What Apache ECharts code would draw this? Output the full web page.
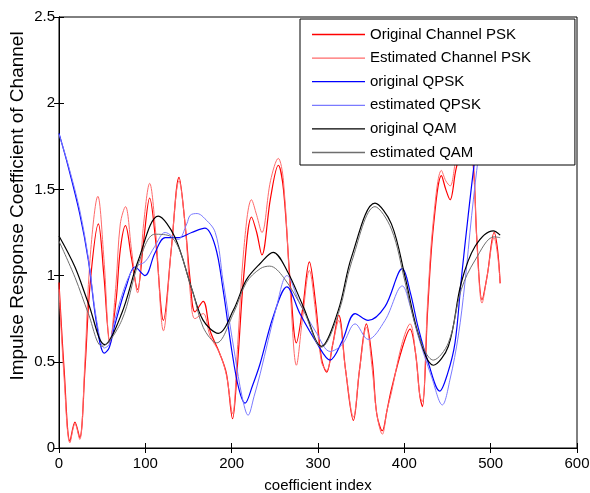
<!DOCTYPE html>
<html>
<head>
<meta charset="utf-8">
<script src="https://cdn.jsdelivr.net/npm/echarts@6/dist/echarts.min.js"></script>
<style>
html, body { margin: 0; padding: 0; background: #fff; }
#container { width: 590px; height: 493px; }
</style>
</head>
<body>
<div id="container"></div>
<script>
// [coefficient index, value]
var origPSK = [[0,0.96],[6,0.45],[12.7,0.04],[18.5,0.15],[24,0.06],[30,0.45],[36,0.95],[45.6,1.30],[52,1.0],[59,0.62],[66,0.85],[71,1.15],[77,1.29],[84,1.1],[91,0.92],[98,1.2],[105,1.45],[112,1.2],[121,0.74],[130,1.15],[139,1.57],[146,1.3],[152,0.97],[157.5,0.79],[167,0.85],[175,0.68],[186,0.55],[194,0.43],[201,0.17],[207,0.5],[214,1.0],[223,1.34],[229,1.25],[235,1.12],[245,1.45],[254,1.64],[260,1.5],[268,0.95],[275,0.61],[282,0.8],[290,1.08],[297,0.85],[304,0.52],[310,0.44],[317,0.6],[324,0.77],[332,0.45],[341,0.16],[348,0.45],[356,0.72],[363,0.5],[368,0.2],[374.5,0.1],[380,0.22],[385,0.34],[397,0.57],[406.6,0.69],[413,0.55],[418,0.3],[421,0.24],[427,0.8],[433.6,1.28],[443,1.58],[448,1.5],[453,1.44],[460,1.62],[473,1.85],[480,1.63],[484,1.21],[490,0.86],[496,1.0],[504,1.25],[508,1.15],[511,0.955]];
var estPSK = [[0,0.92],[6,0.4],[12.7,0.03],[18.5,0.14],[24,0.05],[30,0.5],[36,1.1],[45,1.46],[52,1.1],[59,0.6],[66,0.95],[71,1.3],[77,1.40],[84,1.15],[91,0.9],[98,1.3],[105,1.535],[112,1.25],[121,0.68],[130,1.15],[139,1.55],[146,1.3],[152,0.9],[157.5,0.75],[167,0.78],[175,0.65],[186,0.55],[194,0.42],[201,0.2],[207,0.6],[214,1.15],[223,1.44],[229,1.35],[235,1.25],[245,1.55],[254,1.68],[260,1.55],[268,0.9],[275,0.48],[282,0.75],[290,1.03],[297,0.8],[304,0.5],[310,0.45],[317,0.6],[324,0.74],[332,0.45],[341,0.18],[348,0.45],[356,0.70],[363,0.45],[368,0.2],[374.5,0.08],[380,0.22],[385,0.32],[397,0.6],[406.6,0.72],[413,0.55],[418,0.3],[421,0.27],[427,0.85],[433.6,1.32],[443,1.61],[448,1.55],[453,1.52],[460,1.68],[473,1.9],[480,1.65],[484,1.2],[490,0.84],[496,1.0],[504,1.22],[508,1.12],[511,0.96]];
var origQPSK = [[0,1.825],[10.8,1.63],[24,1.36],[34,1.09],[43.6,0.72],[52.5,0.55],[58,0.58],[65,0.72],[78,0.94],[88,1.05],[99.6,1.0],[111,1.13],[123,1.22],[138,1.22],[153.7,1.25],[169,1.275],[181,1.17],[190,0.92],[200,0.57],[208,0.35],[215.5,0.26],[224,0.36],[233,0.49],[248,0.76],[264,0.935],[279,0.78],[298.5,0.61],[314,0.51],[328,0.62],[343,0.78],[358,0.74],[377.6,0.82],[397.7,1.04],[407,0.9],[416,0.70],[428,0.49],[441,0.33],[450,0.43],[458.7,0.61],[466,0.98],[474,1.35],[482,1.69],[492,2.05],[511,2.3]];
var estQPSK = [[0,1.82],[10.8,1.64],[24,1.38],[34,1.1],[43.6,0.74],[52.5,0.58],[58,0.6],[65,0.75],[78,0.96],[88,1.05],[99.6,1.08],[111,1.17],[123,1.25],[138,1.21],[148,1.3],[152,1.35],[160,1.36],[167,1.34],[181,1.25],[190,0.97],[204,0.53],[212,0.3],[219,0.19],[226,0.3],[233,0.43],[252,0.82],[264,1.0],[279,0.84],[298.5,0.665],[314,0.56],[328,0.6],[343,0.72],[358,0.63],[377.6,0.74],[397.7,0.94],[407,0.82],[416,0.65],[431.7,0.41],[444,0.25],[453,0.4],[462.5,0.65],[470,0.95],[478,1.35],[486,1.7],[495,2.05],[511,2.3]];
var origQAM = [[0,1.23],[18.5,1.05],[34,0.84],[53,0.60],[72.6,0.78],[92,1.09],[115,1.345],[134,1.225],[154,0.92],[167,0.74],[184.5,0.665],[202,0.80],[217,0.975],[233,1.07],[248,1.135],[264,1.03],[283,0.82],[304,0.59],[323.6,0.80],[339,1.11],[366,1.42],[385,1.30],[401,0.99],[416,0.665],[433.6,0.48],[451,0.59],[466,0.96],[482,1.17],[503,1.26],[511,1.235]];
var estQAM = [[0,1.20],[18.5,0.99],[34,0.78],[50,0.59],[72.6,0.74],[92,1.07],[111,1.24],[130,1.225],[154,0.92],[167,0.70],[182.6,0.61],[202,0.78],[217,0.96],[233,1.04],[244,1.055],[260,0.99],[283,0.80],[304,0.585],[323.6,0.78],[339,1.08],[366,1.40],[385,1.27],[401,0.96],[416,0.66],[433.6,0.51],[451,0.61],[466,0.92],[482,1.09],[504,1.225],[511,1.22]];

var legendNames = ['Original Channel PSK', 'Estimated Channel PSK', 'original QPSK', 'estimated QPSK', 'original QAM', 'estimated QAM'];
var xTicks = {min: 0, max: 600, step: 100};
var yTicks = {min: 0, max: 2.5, step: 0.5};
var yTitle = 'Impulse Response Coefficient of Channel';

var font = 'Liberation Sans, Arial, sans-serif';
var dom = document.getElementById('container');
var myChart = echarts.init(dom, null, {renderer: 'canvas'});

function mkLine(name, data, color, width) {
    return {
        name: name,
        type: 'line',
        data: data,
        smooth: 0.35,
        symbol: 'none',
        animation: false,
        lineStyle: {color: color, width: width},
        itemStyle: {color: color}
    };
}

var tickStyle = {show: true, inside: true, length: 5, lineStyle: {color: '#000'}};

option = {
    backgroundColor: '#fff',
    grid: {
        left: 59, top: 17, right: 13, bottom: 45,
        outerBoundsMode: 'none', containLabel: false,
        show: true, borderColor: '#000', borderWidth: 1
    },
    legend: {
        orient: 'vertical',
        left: 300,
        top: 19,
        data: legendNames,
        icon: 'rect',
        itemWidth: 53,
        itemHeight: 1.3,
        itemGap: 8.6,
        padding: [8, 44, 5, 12],
        backgroundColor: '#fff',
        borderColor: '#000',
        borderWidth: 1,
        borderRadius: 0,
        textStyle: {fontFamily: font, fontSize: 15, lineHeight: 15, color: '#000'}
    },
    graphic: [{
        type: 'text',
        x: 18,
        y: 206,
        rotation: Math.PI / 2,
        style: {
            text: yTitle, fill: '#000', font: '19px ' + font,
            textAlign: 'center', textVerticalAlign: 'middle'
        }
    }],
    xAxis: [{
        type: 'value', min: xTicks.min, max: xTicks.max, interval: xTicks.step,
        name: 'coefficient index', nameLocation: 'middle', nameGap: 30,
        nameTextStyle: {fontFamily: font, fontSize: 15, color: '#000'},
        axisLine: {show: true, lineStyle: {color: '#000'}},
        axisTick: tickStyle,
        axisLabel: {fontFamily: font, fontSize: 15, color: '#000', margin: 8},
        splitLine: {show: false}
    }, {
        type: 'value', position: 'top', min: xTicks.min, max: xTicks.max, interval: xTicks.step,
        axisLine: {show: true, lineStyle: {color: '#000'}},
        axisTick: tickStyle, axisLabel: {show: false}, splitLine: {show: false}
    }],
    yAxis: [{
        type: 'value', min: yTicks.min, max: yTicks.max, interval: yTicks.step,
        axisLine: {show: true, lineStyle: {color: '#000'}},
        axisTick: tickStyle,
        axisLabel: {fontFamily: font, fontSize: 15, color: '#000', margin: 4},
        splitLine: {show: false}
    }, {
        type: 'value', position: 'right', min: yTicks.min, max: yTicks.max, interval: yTicks.step,
        axisLine: {show: true, lineStyle: {color: '#000'}},
        axisTick: tickStyle, axisLabel: {show: false}, splitLine: {show: false}
    }],
    series: [
        mkLine(legendNames[0], origPSK, '#ff0000', 1.2),
        mkLine(legendNames[1], estPSK, '#ff6a6a', 1),
        mkLine(legendNames[2], origQPSK, '#0000ff', 1.2),
        mkLine(legendNames[3], estQPSK, '#7a7aff', 1),
        mkLine(legendNames[4], origQAM, '#000000', 1.2),
        mkLine(legendNames[5], estQAM, '#6e6e6e', 1)
    ]
};

if (option && typeof option === 'object') {
    myChart.setOption(option, true);
}
</script>
</body>
</html>
